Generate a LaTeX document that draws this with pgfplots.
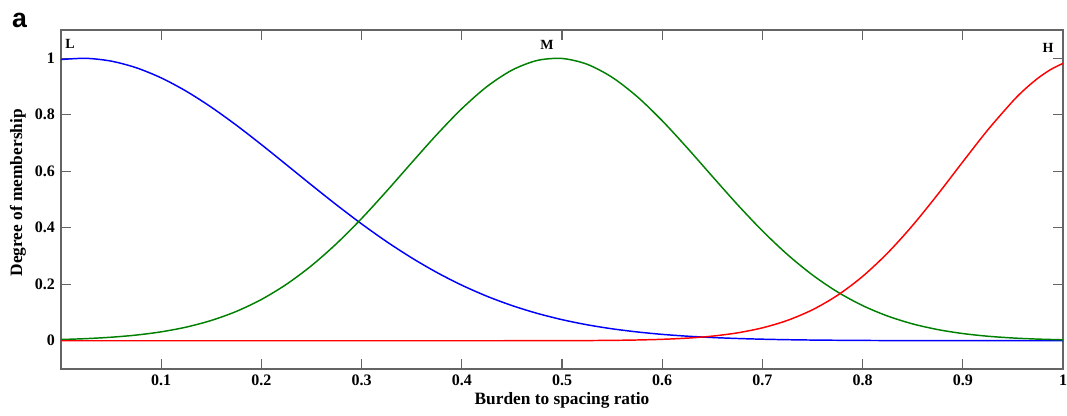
\documentclass[border=0pt]{standalone}
\usepackage{pgfplots}
\pgfplotsset{compat=1.18}
\usepackage{fontspec}
\setmainfont{Liberation Serif}
\newfontfamily\sansfam{Liberation Sans}
\definecolor{axgray}{RGB}{100,100,100}
\definecolor{mgreen}{RGB}{0,128,0}
\definecolor{lblue}{RGB}{0,0,255}
\definecolor{hred}{RGB}{255,0,0}

\pgfplotstableread{
x y
0 0.9955
0.025 0.9997
0.05 0.9899
0.075 0.9665
0.1 0.9305
0.125 0.8833
0.15 0.8267
0.175 0.7630
0.2 0.6943
0.225 0.6230
0.25 0.5512
0.275 0.4809
0.3 0.4136
0.325 0.3508
0.35 0.2934
0.375 0.2419
0.4 0.1967
0.425 0.1577
0.45 0.1247
0.475 0.0972
0.5 0.0747
0.525 0.0566
0.55 0.0423
0.575 0.0312
0.6 0.0226
0.625 0.0162
0.65 0.0115
0.675 0.0080
0.7 0.0055
0.725 0.0037
0.75 0.0025
0.775 0.0017
0.8 0.0011
0.85 0.0004
0.9 0.0002
0.95 0.0001
1 0.0000
}\lowtable

\pgfplotstableread{
x y
0 0.0044
0.025 0.0075
0.05 0.0125
0.075 0.0201
0.1 0.0316
0.125 0.0483
0.15 0.0719
0.175 0.1039
0.2 0.1461
0.225 0.1999
0.25 0.2659
0.275 0.3440
0.3 0.4328
0.325 0.5297
0.35 0.6305
0.375 0.7297
0.4 0.8215
0.425 0.8995
0.45 0.9578
0.475 0.9920
0.5 0.9992
0.525 0.9788
0.55 0.9326
0.575 0.8642
0.6 0.7788
0.625 0.6826
0.65 0.5819
0.675 0.4824
0.7 0.3890
0.725 0.3051
0.75 0.2327
0.775 0.1726
0.8 0.1245
0.825 0.0874
0.85 0.0596
0.875 0.0396
0.9 0.0255
0.925 0.0160
0.95 0.0098
0.975 0.0058
1 0.0034
}\medtable

\pgfplotstableread{
x y
0 0
0.1 0
0.2 0
0.3 0
0.4 0
0.45 0.0001
0.5 0.0003
0.525 0.0007
0.55 0.0014
0.575 0.0027
0.6 0.0051
0.625 0.0093
0.65 0.0164
0.675 0.0279
0.7 0.0457
0.725 0.0721
0.75 0.1097
0.775 0.1610
0.8 0.2278
0.825 0.3108
0.85 0.4087
0.875 0.5182
0.9 0.6335
0.925 0.7466
0.95 0.8484
0.9625 0.8922
0.975 0.9295
0.9875 0.9597
1 0.9819
}\hightable

\begin{document}
\begin{tikzpicture}
\begin{axis}[
  name=ax,
  at={(0,0)}, anchor=south west,
  scale only axis,
  width=751.5pt, height=254.25pt,
  xmin=0, xmax=1, ymin=-0.1, ymax=1.1,
  xtick={0.1,0.2,0.3,0.4,0.5,0.6,0.7,0.8,0.9,1},
  xticklabels={0.1,0.2,0.3,0.4,0.5,0.6,0.7,0.8,0.9,1},
  ytick={0,0.2,0.4,0.6,0.8,1},
  yticklabels={0,0.2,0.4,0.6,0.8,1},
  tick align=inside,
  tick pos=both,
  major tick length=7.5pt,
  axis line style={axgray, line width=0.9pt},
  every tick/.style={axgray, line width=0.9pt},
  ticklabel style={font=\fontsize{12}{12}\selectfont\bfseries, text=black},
  xticklabel style={yshift=-1pt},
  yticklabel style={xshift=-1pt},
  xlabel={Burden to spacing ratio},
  ylabel={Degree of membership},
  label style={font=\fontsize{13}{14}\selectfont\bfseries},
  xlabel style={at={(axis description cs:0.5,-0.0915)}, anchor=center},
  ylabel style={at={(axis description cs:-0.043,0.52)}, anchor=center, rotate=0},
  clip=false,
]
\addplot[lblue, line width=1.1pt, smooth] table[x=x,y=y] {\lowtable};
\addplot[mgreen, line width=1.1pt, smooth] table[x=x,y=y] {\medtable};
\addplot[hred, line width=1.1pt, smooth] table[x=x,y=y] {\hightable};
\node[font=\fontsize{10.5}{11}\selectfont\bfseries] at (axis cs:0.009,1.05) {L};
\node[font=\fontsize{10.5}{11}\selectfont\bfseries] at (axis cs:0.485,1.046) {M};
\node[font=\fontsize{10.5}{11}\selectfont\bfseries] at (axis cs:0.985,1.035) {H};
\end{axis}
\node[font=\sansfam\fontsize{20}{20}\selectfont\bfseries] at ([shift={(-31.1pt,7.5pt)}]ax.north west) {a};
\pgfresetboundingbox
\path ([shift={(-45.75pt,-34.5pt)}]ax.south west) rectangle ([shift={(3pt,22.5pt)}]ax.north east);
\end{tikzpicture}
\end{document}
